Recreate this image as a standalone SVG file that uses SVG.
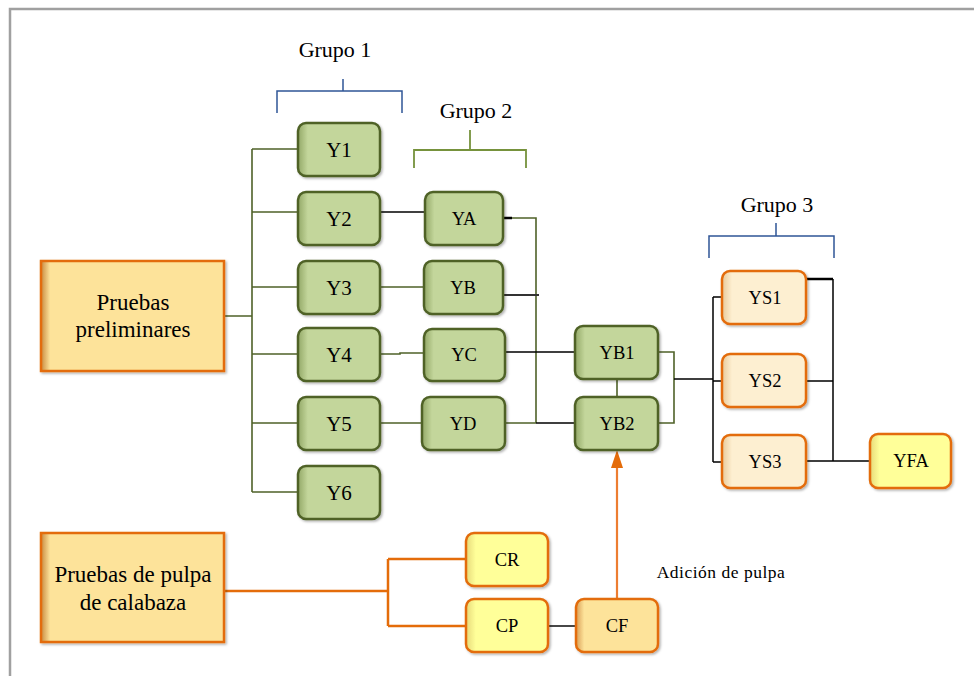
<svg xmlns="http://www.w3.org/2000/svg" width="974" height="676" viewBox="0 0 974 676" font-family="'Liberation Serif', 'Times New Roman', Times, serif">
<defs>
  <linearGradient id="gGreen" x1="0" y1="0" x2="1" y2="0">
    <stop offset="0" stop-color="#93a867"/>
    <stop offset="0.12" stop-color="#c3d69b"/>
    <stop offset="1" stop-color="#c3d69b"/>
  </linearGradient>
  <linearGradient id="gCream" x1="0" y1="0" x2="1" y2="0">
    <stop offset="0" stop-color="#e8c99a"/>
    <stop offset="0.12" stop-color="#fdefd1"/>
    <stop offset="1" stop-color="#fdefd1"/>
  </linearGradient>
  <linearGradient id="gYellow" x1="0" y1="0" x2="1" y2="0">
    <stop offset="0" stop-color="#e6d97a"/>
    <stop offset="0.12" stop-color="#ffff99"/>
    <stop offset="1" stop-color="#ffff99"/>
  </linearGradient>
  <linearGradient id="gGold" x1="0" y1="0" x2="1" y2="0">
    <stop offset="0" stop-color="#d99e55"/>
    <stop offset="0.1" stop-color="#fde39a"/>
    <stop offset="1" stop-color="#fde39a"/>
  </linearGradient>
  <linearGradient id="gGoldWide" x1="0" y1="0" x2="1" y2="0">
    <stop offset="0" stop-color="#c98a40"/>
    <stop offset="0.05" stop-color="#fde39a"/>
    <stop offset="1" stop-color="#fde39a"/>
  </linearGradient>
  <filter id="sh" x="-10%" y="-10%" width="125%" height="130%">
    <feDropShadow dx="1.5" dy="1.5" stdDeviation="1.2" flood-color="#000" flood-opacity="0.3"/>
  </filter>
</defs>
<style>
  text { font-family: 'Liberation Serif', 'Times New Roman', Times, serif; fill: #000; text-anchor: middle; }
  .g rect { fill: url(#gGreen); stroke: #4f6228; stroke-width: 2.5; filter: url(#sh); }
  .s rect { fill: url(#gCream); stroke: #e36c09; stroke-width: 2.5; filter: url(#sh); }
  .yl rect { fill: url(#gYellow); stroke: #e36c09; stroke-width: 2.5; filter: url(#sh); }
  .go rect { fill: url(#gGold); stroke: #e36c09; stroke-width: 2.5; filter: url(#sh); }
  .big rect { fill: url(#gGoldWide); stroke: #e36c09; stroke-width: 2.5; filter: url(#sh); }
  .t21 { font-size: 21px; }
  .t18 { font-size: 18.5px; }
  .t23 { font-size: 23px; }
  .t22 { font-size: 22px; }
  .lg { stroke: #4f6228; stroke-width: 1.6; fill: none; }
  .lb { stroke: #000; stroke-width: 1.5; fill: none; }
  .lo { stroke: #e46c0a; stroke-width: 2.5; fill: none; }
  .br1 { stroke: #2f5597; stroke-width: 1.5; fill: none; }
  .br2 { stroke: #76923c; stroke-width: 1.8; fill: none; }
</style>

<path d="M10,676 V9 H974" fill="none" stroke="#a0a0a0" stroke-width="2.5"/>

<g id="brackets">
  <path class="br1" d="M277,113 V91 H402 V113 M343,79 V91"/>
  <path class="br2" d="M414,168 V150 H526 V168 M470,130 V150"/>
  <path class="br1" d="M709,258 V236 H834 V258 M776,223 V236"/>
</g>
<g id="group-labels">
  <text class="t22" x="335" y="57">Grupo 1</text>
  <text class="t22" x="476" y="118">Grupo 2</text>
  <text class="t22" x="777" y="212">Grupo 3</text>
  <text x="721" y="578" style="font-size:17.5px; letter-spacing:0.5px">Adición de pulpa</text>
</g>

<g id="connectors">
  <path class="lg" d="M252,149 V492 M252,149 H298 M252,212 H298 M252,287 H298 M252,354 H298 M252,423 H298 M252,492 H298 M224,316 H252"/>
  <path class="lg" d="M380,287 H424 M380,354 H400 V353 H424 M380,423 H422"/>
  <path class="lg" d="M503,218 H536 V423 M505,423 H536"/>
  <path class="lg" d="M617,379 V397 M658,352 H674 V423 H658"/>
  <path class="lb" d="M380,212 H425"/>
  <path d="M503,218 H512" stroke="#000" stroke-width="2.5"/>
  <path d="M503,295 H539" stroke="#333" stroke-width="2"/>
  <path class="lb" d="M505,352 H575 M536,423 H575"/>
  <path class="lb" d="M674,379 H713 M713,297 V462 M713,297 H722 M713,381 H722 M713,462 H722"/>
  <path class="lb" d="M833,279 V461 M806,381 H833 M806,461 H870"/>
  <path d="M806,279 H833" stroke="#000" stroke-width="2.5"/>
  <path d="M548,626 H576" stroke="#333" stroke-width="1.8"/>
  <path class="lo" d="M224,591 H388 M388,559 V626 M388,559 H466 M388,626 H466"/>
  <path d="M617,599 V466" stroke="#ed7d31" stroke-width="2.2"/>
  <polygon points="611,468 623,468 617,450" fill="#e46c0a"/>
</g>

<g id="PP" class="big"><rect x="41" y="261" width="183" height="110"/><text class="t23" x="133" y="310">Pruebas</text><text class="t23" x="133" y="337">preliminares</text></g>
<g id="PPC" class="big"><rect x="41" y="533" width="183" height="109"/><text class="t23" x="133" y="582">Pruebas de pulpa</text><text class="t23" x="133" y="610">de calabaza</text></g>

<g id="Y1" class="g"><rect x="298" y="123" width="82" height="53" rx="8"/><text class="t21" x="339" y="157">Y1</text></g>
<g id="Y2" class="g"><rect x="298" y="192" width="82" height="53" rx="8"/><text class="t21" x="339" y="226">Y2</text></g>
<g id="Y3" class="g"><rect x="298" y="261" width="82" height="53" rx="8"/><text class="t21" x="339" y="295">Y3</text></g>
<g id="Y4" class="g"><rect x="298" y="328" width="82" height="53" rx="8"/><text class="t21" x="339" y="362">Y4</text></g>
<g id="Y5" class="g"><rect x="298" y="397" width="82" height="53" rx="8"/><text class="t21" x="339" y="431">Y5</text></g>
<g id="Y6" class="g"><rect x="298" y="466" width="82" height="53" rx="8"/><text class="t21" x="339" y="500">Y6</text></g>

<g id="YA" class="g"><rect x="425" y="192" width="78" height="53" rx="8"/><text class="t18" x="464" y="225">YA</text></g>
<g id="YB" class="g"><rect x="424" y="261" width="79" height="53" rx="8"/><text class="t18" x="463" y="294">YB</text></g>
<g id="YC" class="g"><rect x="424" y="329" width="81" height="52" rx="8"/><text class="t18" x="464" y="361">YC</text></g>
<g id="YD" class="g"><rect x="422" y="397" width="83" height="53" rx="8"/><text class="t18" x="463" y="430">YD</text></g>

<g id="YB1" class="g"><rect x="575" y="326" width="83" height="53" rx="8"/><text class="t18" x="617" y="359">YB1</text></g>
<g id="YB2" class="g"><rect x="575" y="397" width="83" height="53" rx="8"/><text class="t18" x="617" y="430">YB2</text></g>

<g id="YS1" class="s"><rect x="722" y="271" width="84" height="53" rx="8"/><text class="t18" x="765" y="304">YS1</text></g>
<g id="YS2" class="s"><rect x="722" y="354" width="84" height="53" rx="8"/><text class="t18" x="765" y="387">YS2</text></g>
<g id="YS3" class="s"><rect x="722" y="435" width="84" height="53" rx="8"/><text class="t18" x="765" y="468">YS3</text></g>
<g id="YFA" class="yl"><rect x="870" y="434" width="81" height="54" rx="8"/><text class="t18" x="911" y="467">YFA</text></g>

<g id="CR" class="yl"><rect x="466" y="533" width="82" height="53" rx="8"/><text class="t18" x="507" y="566">CR</text></g>
<g id="CP" class="yl"><rect x="466" y="599" width="82" height="53" rx="8"/><text class="t18" x="507" y="632">CP</text></g>
<g id="CF" class="go"><rect x="576" y="599" width="82" height="53" rx="8"/><text class="t18" x="617" y="632">CF</text></g>
</svg>
